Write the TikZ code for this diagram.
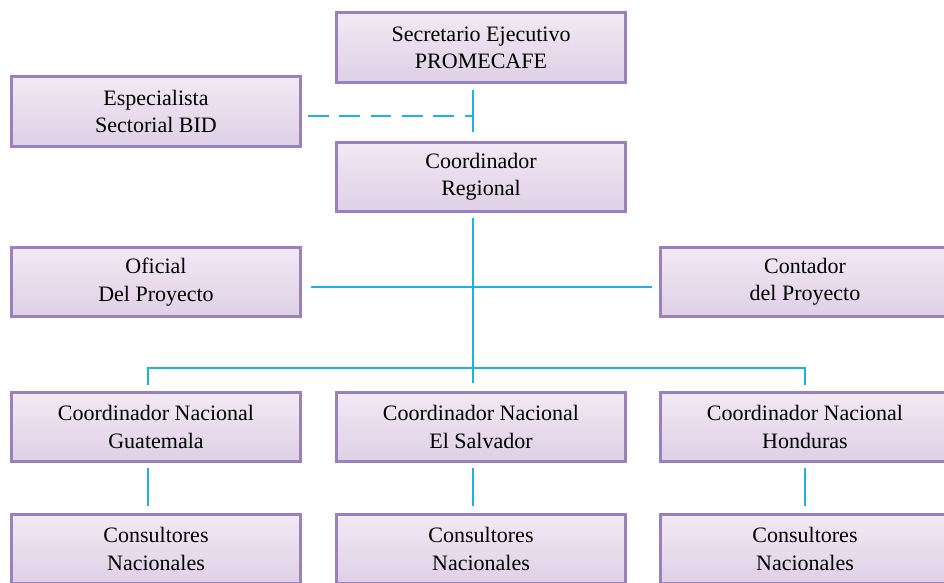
\documentclass[tikz,border=0pt]{standalone}
\usepackage{fontspec}
\setmainfont{Liberation Serif}
\usepackage{tikz}
\usetikzlibrary{calc}
\usepackage{xcolor}
\definecolor{postline}{RGB}{155,128,190}
\definecolor{posttop}{RGB}{242,233,244}
\definecolor{postbottom}{RGB}{222,208,230}
\definecolor{linkblue}{RGB}{30,178,228}

\begin{document}
\begin{tikzpicture}[
    x=0.75pt, y=-0.75pt,
    post/.style={rectangle, draw=postline, line width=2.2pt, top color=posttop, bottom color=postbottom,
                 minimum width=217pt, minimum height=52pt, inner sep=0pt, align=center,
                 font=\fontsize{16.5}{20.5}\selectfont},
    link/.style={line width=1.1pt, draw=linkblue},
    advice/.style={link, dash pattern=on 15.5pt off 8pt},
]
    \useasboundingbox (0,0) rectangle (944,582);
    \clip (0,0) rectangle (944,582);

    % Top level
    \node[post] (sec) at (481,47.5) {Secretario Ejecutivo\\PROMECAFE};
    \node[post] (esp) at (156,111.5) {Especialista\\Sectorial BID};
    \node[post] (creg) at (481,177) {Coordinador\\Regional};

    % Staff
    \node[post] (ofi) at (156,282) {Oficial\\Del Proyecto};
    \node[post] (cont) at (805,282) {Contador\\del Proyecto};

    % National coordinators
    \node[post] (cng) at (156,427) {Coordinador Nacional\\Guatemala};
    \node[post] (cnes) at (481,427) {Coordinador Nacional\\El Salvador};
    \node[post] (cnh) at (805,427) {Coordinador Nacional\\Honduras};

    % Consultants
    \node[post] (cong) at (156,549) {Consultores\\Nacionales};
    \node[post] (cones) at (481,549) {Consultores\\Nacionales};
    \node[post] (conh) at (805,549) {Consultores\\Nacionales};

    % Columns of the connectors
    \coordinate (trunk) at (473,0);
    \coordinate (colA) at (148,368);
    \coordinate (colB) at (473,368);
    \coordinate (colC) at (805,368);

    % Trunk
    \draw[link] ([shift={(0,6)}]sec.south -| trunk) -- ([shift={(0,-9)}]creg.north -| trunk);
    \draw[advice] ([shift={(6,4.5)}]esp.east) -- ([shift={(0,4.5)}]esp.east -| trunk);
    \draw[link] ([shift={(0,5)}]creg.south -| trunk) -- ([shift={(0,-8)}]cnes.north -| trunk);
    \draw[link] ([shift={(9,5)}]ofi.east) -- ([shift={(-7,5)}]cont.west);

    % Bus to the national coordinators
    \draw[link] ([shift={(0,-6)}]cng.north -| colA) |- (colC) -- ([shift={(0,-6)}]cnh.north -| colC);

    % Drops to the consultants
    \draw[link] ([shift={(0,5)}]cng.south -| colA) -- ([shift={(0,-7)}]cong.north -| colA);
    \draw[link] ([shift={(0,5)}]cnes.south -| colB) -- ([shift={(0,-7)}]cones.north -| colB);
    \draw[link] ([shift={(0,5)}]cnh.south -| colC) -- ([shift={(0,-7)}]conh.north -| colC);

\end{tikzpicture}
\end{document}
